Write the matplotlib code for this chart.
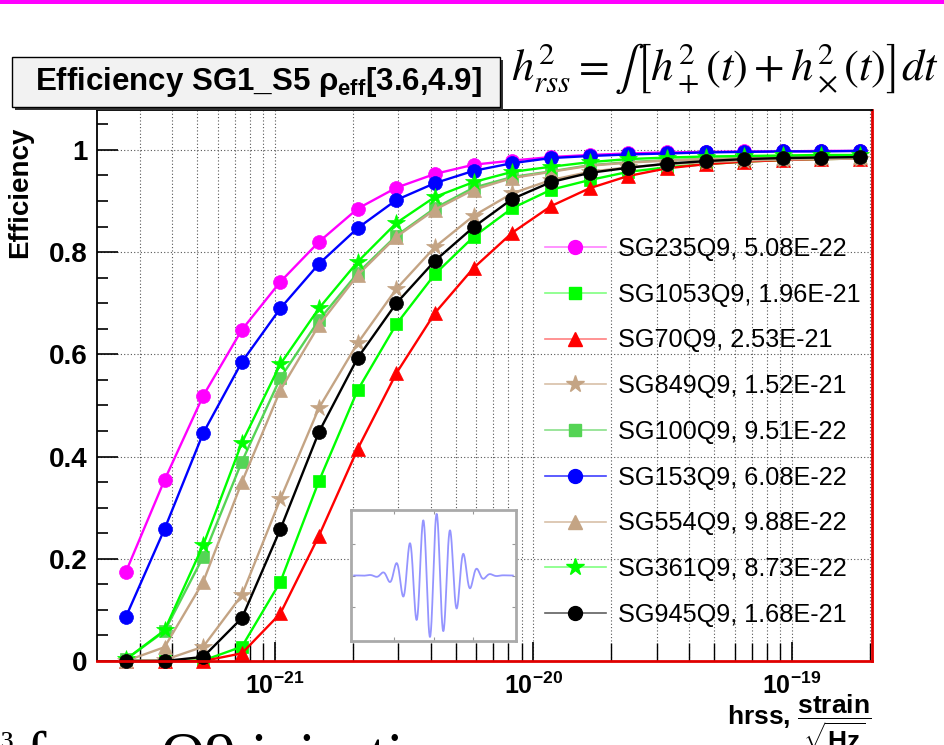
import numpy as np
import matplotlib
matplotlib.use("Agg")
import matplotlib.pyplot as plt
from matplotlib.lines import Line2D
from matplotlib.patches import Rectangle
from matplotlib.ticker import LogLocator, MultipleLocator, FixedLocator, NullFormatter

plt.rcParams['font.family'] = ['Liberation Sans', 'DejaVu Sans']
plt.rcParams['mathtext.fontset'] = 'custom'
plt.rcParams['mathtext.rm'] = 'Liberation Sans'
plt.rcParams['mathtext.bf'] = 'Liberation Sans:bold'
plt.rcParams['mathtext.it'] = 'Liberation Sans:italic'

# ---------------- data ----------------
hrss = [2.65e-22, 3.74e-22, 5.28e-22, 7.45e-22, 1.05e-21, 1.48e-21, 2.09e-21,
        2.95e-21, 4.16e-21, 5.87e-21, 8.28e-21, 1.17e-20, 1.65e-20, 2.33e-20,
        3.29e-20, 4.64e-20, 6.55e-20, 9.24e-20, 1.30e-19, 1.84e-19]

labels = ["SG235Q9, 5.08E-22", "SG1053Q9, 1.96E-21", "SG70Q9, 2.53E-21",
          "SG849Q9, 1.52E-21", "SG100Q9, 9.51E-22", "SG153Q9, 6.08E-22",
          "SG554Q9, 9.88E-22", "SG361Q9, 8.73E-22", "SG945Q9, 1.68E-21"]

eff_sg235 = [0.174, 0.354, 0.519, 0.648, 0.742, 0.820, 0.885, 0.926, 0.953, 0.971,
             0.979, 0.986, 0.990, 0.993, 0.995, 0.996, 0.997, 0.997, 0.998, 0.998]
eff_sg1053 = [0.0, 0.0, 0.001, 0.028, 0.155, 0.352, 0.530, 0.659, 0.757, 0.830,
              0.886, 0.922, 0.941, 0.957, 0.966, 0.972, 0.977, 0.980, 0.982, 0.983]
eff_sg70 = [0.0, 0.0, 0.0, 0.015, 0.093, 0.245, 0.415, 0.563, 0.681, 0.769,
            0.838, 0.890, 0.925, 0.949, 0.964, 0.972, 0.977, 0.980, 0.982, 0.983]
eff_sg849 = [0.0, 0.002, 0.028, 0.129, 0.317, 0.495, 0.622, 0.728, 0.810, 0.871,
             0.915, 0.941, 0.957, 0.966, 0.972, 0.976, 0.979, 0.981, 0.982, 0.983]
eff_sg100 = [0.003, 0.058, 0.204, 0.390, 0.554, 0.667, 0.759, 0.832, 0.886, 0.926,
             0.947, 0.958, 0.970, 0.976, 0.980, 0.982, 0.984, 0.985, 0.986, 0.986]
eff_sg153 = [0.086, 0.258, 0.446, 0.585, 0.690, 0.777, 0.847, 0.902, 0.935, 0.959,
             0.974, 0.984, 0.988, 0.991, 0.993, 0.995, 0.996, 0.997, 0.997, 0.998]
eff_sg554 = [0.0, 0.027, 0.155, 0.350, 0.530, 0.657, 0.755, 0.830, 0.883, 0.922,
             0.945, 0.957, 0.969, 0.975, 0.979, 0.982, 0.984, 0.985, 0.986, 0.986]
eff_sg361 = [0.003, 0.060, 0.227, 0.427, 0.581, 0.690, 0.781, 0.857, 0.908, 0.937,
             0.957, 0.967, 0.976, 0.982, 0.985, 0.987, 0.988, 0.989, 0.990, 0.990]
eff_sg945 = [0.0, 0.0, 0.008, 0.084, 0.258, 0.448, 0.593, 0.700, 0.783, 0.849,
             0.904, 0.937, 0.955, 0.965, 0.973, 0.978, 0.982, 0.984, 0.985, 0.986]

series = [eff_sg235, eff_sg1053, eff_sg70, eff_sg849, eff_sg100,
          eff_sg153, eff_sg554, eff_sg361, eff_sg945]

colors = ['#ff00ff', '#00ff00', '#ff0000', '#c4a484', '#55d455',
          '#0000ff', '#c4a484', '#00ff00', '#000000']
legend_line_colors = ['#ff80ff', '#80ff80', '#ff8080', '#d8c0a8', '#8ae08a',
                      '#4040ff', '#d8c0a8', '#80ff80', '#606060']
markers = ['o', 's', '^', '*', 's', 'o', '^', '*', 'o']
msizes = [10, 9, 10, 13, 9, 10, 10, 13, 10]

xticks = [1e-21, 1e-20, 1e-19]
xticklabels = [r'$\mathbf{10^{-21}}$', r'$\mathbf{10^{-20}}$', r'$\mathbf{10^{-19}}$']
yticks = [0, 0.2, 0.4, 0.6, 0.8, 1.0]
yticklabels = ['0', '0.2', '0.4', '0.6', '0.8', '1']

# ---------------- figure ----------------
W, H = 944, 745
fig = plt.figure(figsize=(W / 100, H / 100), dpi=100)

def fx(px):
    return px / W

def fy(py):
    return 1 - py / H

# magenta bar at top
fig.patches.append(Rectangle((0, fy(4)), 1, 4 / H, transform=fig.transFigure,
                             facecolor='#ff00ff', edgecolor='none', zorder=0))

ax = fig.add_axes([fx(97), fy(661), fx(872) - fx(97), fy(110) - fy(661)])
ax.set_xscale('log')

for y, c, m, ms in zip(series, colors, markers, msizes):
    ax.plot(hrss, y, color=c, marker=m, markersize=ms, lw=1.7, clip_on=False,
            markeredgewidth=0.5, markeredgecolor=c)

ax.set_xlim(2.05e-22, 2.04e-19)
ax.set_ylim(0, 1.078)

ax.xaxis.set_major_locator(FixedLocator(xticks))
ax.set_xticklabels(xticklabels)
ax.xaxis.set_minor_locator(LogLocator(base=10, subs=np.arange(2, 10)))
ax.xaxis.set_minor_formatter(NullFormatter())
ax.set_yticks(yticks)
ax.set_yticklabels(yticklabels)
ax.yaxis.set_minor_locator(MultipleLocator(0.05))

ax.tick_params(axis='y', which='major', direction='in', length=15, width=1.2,
               labelsize=20, pad=7)
ax.tick_params(axis='y', which='minor', direction='in', length=8, width=1.2)
ax.tick_params(axis='x', which='major', direction='in', length=14, width=1.2,
               labelsize=18, pad=8)
ax.tick_params(axis='x', which='minor', direction='in', length=13, width=1.0)
for lab in ax.get_yticklabels():
    lab.set_fontweight('bold')

ax.grid(True, which='major', axis='both', ls=(0, (1, 2)), color='#555555', lw=0.8)
ax.grid(True, which='minor', axis='x', ls=(0, (1, 2)), color='#555555', lw=0.8)
ax.set_axisbelow(True)

for s in ['left', 'top']:
    ax.spines[s].set_color('black')
    ax.spines[s].set_linewidth(1.3)
for s in ['right', 'bottom']:
    ax.spines[s].set_color('#e00000')
    ax.spines[s].set_linewidth(2.0)

# legend
handles = [Line2D([], [], color=lc, marker=m, markersize=ms, lw=1.2,
                  markerfacecolor=c, markeredgecolor=c)
           for c, lc, m, ms in zip(colors, legend_line_colors, markers, msizes)]
leg = ax.legend(handles, labels, loc='upper left',
                bbox_to_anchor=(fx(545), fy(237)), bbox_transform=fig.transFigure,
                frameon=False, fontsize=18.2, handlelength=2.4, handletextpad=0.5,
                labelspacing=0.86, borderpad=0, borderaxespad=0)

# y label
fig.text(fx(20), fy(127), 'Efficiency', rotation=90, ha='center', va='top',
         fontsize=20, fontweight='bold')

# x label
fig.text(fx(871), fy(724), r'hrss, $\dfrac{\mathbf{strain}}{\sqrt{\mathbf{Hz}}}$',
         ha='right', va='baseline', fontsize=19, fontweight='bold')

# title box
fig.patches.append(Rectangle((fx(15), fy(110)), fx(500) - fx(12), fy(57) - fy(107),
                             transform=fig.transFigure, facecolor='#333333',
                             edgecolor='none', zorder=1))
fig.patches.append(Rectangle((fx(12), fy(107)), fx(500) - fx(12), fy(57) - fy(107),
                             transform=fig.transFigure, facecolor='#f2f2f2',
                             edgecolor='black', lw=1.0, zorder=2))
fig.text(fx(258), fy(90), r'Efficiency SG1_S5 ρ$_{\mathbf{eff}}$[3.6,4.9]',
         ha='center', va='baseline', fontsize=22.5, fontweight='bold', zorder=3)

# formula
fig.text(fx(939), fy(80), r'$h^2_{rss} = \int \left[h^2_+(t) + h^2_\times(t)\right] dt$',
         ha='right', va='baseline', fontsize=32, math_fontfamily='stix')

# cut-off slide text at the bottom
fig.text(fx(0), fy(760), '³', ha='left', va='baseline',
         fontsize=30, family='Liberation Serif')
fig.text(fx(26), fy(774), 'for ~ Q9 injections', ha='left', va='baseline',
         fontsize=44, family='Liberation Serif')

# inset with sine-Gaussian waveform sketch (illustration)
ins = fig.add_axes([fx(351), fy(641), fx(516) - fx(351), fy(510) - fy(641)])
t = np.linspace(0, 1, 600)
wave = np.exp(-(t - 0.5) ** 2 / (2 * 0.13 ** 2)) * np.cos(2 * np.pi * (t - 0.52) / 0.085)
ins.plot(t, wave, color='#7a7aff', lw=1.3, alpha=0.8)
ins.set_xlim(-0.02, 1.02)
ins.set_ylim(-1.05, 1.05)
ins.set_xticks([0.25, 0.5, 0.75])
ins.set_yticks([-0.5, 0, 0.5])
ins.tick_params(direction='in', length=3, color='#999999', labelbottom=False,
                labelleft=False, top=True, right=True)
for s in ins.spines.values():
    s.set_color('#aaaaaa')
    s.set_linewidth(2)

fig.savefig('out.png', dpi=100)
